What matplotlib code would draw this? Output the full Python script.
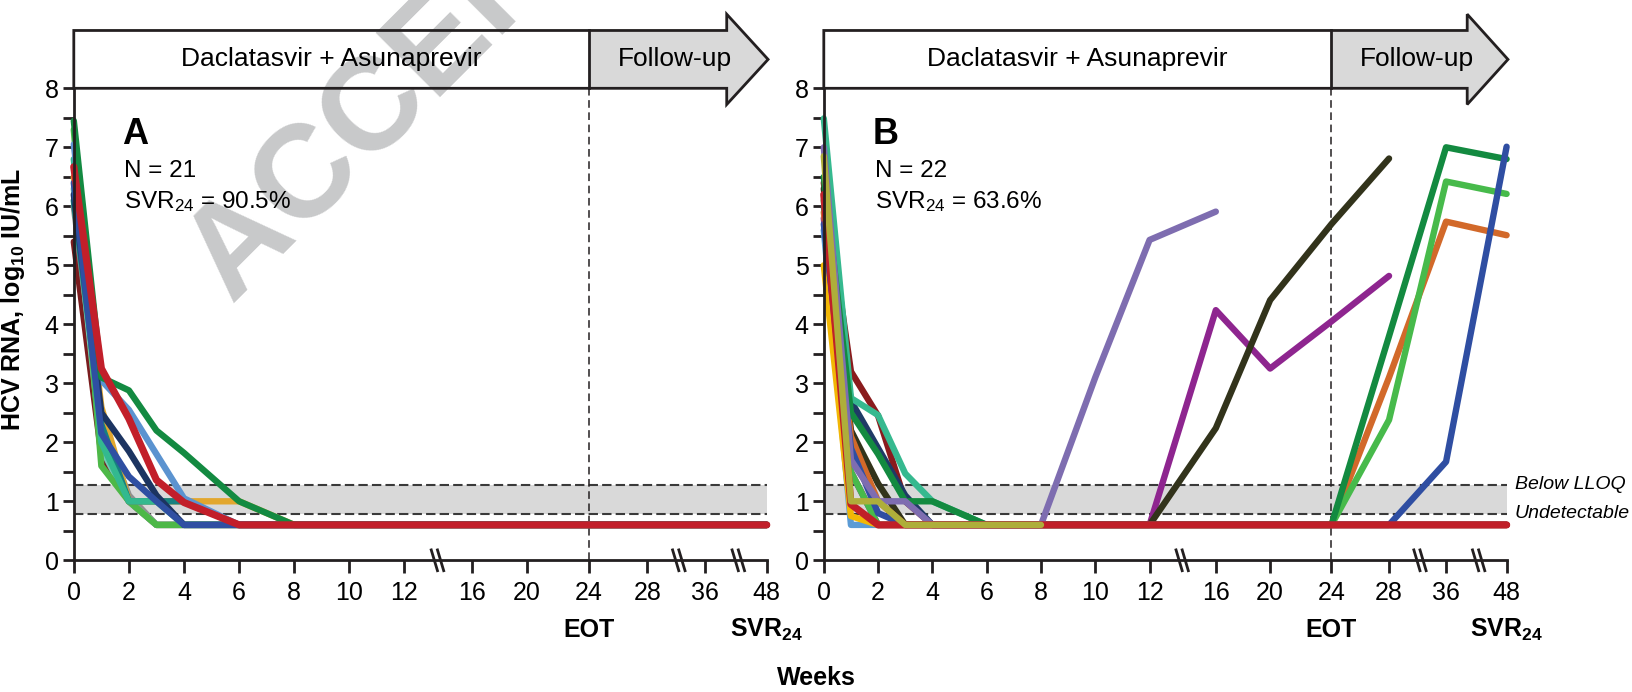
import numpy as np
import matplotlib
matplotlib.use("Agg")
import matplotlib.pyplot as plt
from matplotlib.patches import Polygon
from matplotlib.ticker import NullLocator
import matplotlib.transforms as mtransforms

plt.rcParams['font.family'] = ['Liberation Sans', 'DejaVu Sans']
plt.rcParams['mathtext.fontset'] = 'custom'
plt.rcParams['mathtext.rm'] = 'Liberation Sans'
plt.rcParams['mathtext.it'] = 'Liberation Sans:italic'
plt.rcParams['mathtext.bf'] = 'Liberation Sans:bold'

# weeks at which HCV RNA was measured
weeks = [0, 1, 2, 3, 4, 6, 8, 10, 12, 16, 20, 24, 28, 36, 48]

# broken x axis: tick weeks and where they sit (in 2-week units)
tick_weeks = [0, 2, 4, 6, 8, 10, 12, 16, 20, 24, 28, 36, 48]
tick_pos = [0, 1, 2, 3, 4, 5, 6, 7.22, 8.22, 9.35, 10.41, 11.46, 12.575]
break_pos = [6.6, 10.98, 12.06]

U = 0.6  # undetectable
# panel A: Daclatasvir + Asunaprevir, N = 21 (drawn in this order)
a_darkred = [5.4, 1.8, 1.0, U, U, U, U, U, U, U, U, U, U, U, U]
a_gray = [6.0, 2.3, 1.1, U, U, U, U, U, U, U, U, U, U, U, U]
a_mint = [6.3, 1.9, 1.0, U, U, U, U, U, U, U, U, U, U, U, U]
a_lgreen = [7.3, 1.6, 1.0, U, U, U, U, U, U, U, U, U, U, U, U]
a_gold = [6.5, 2.6, 1.0, 1.0, 1.0, 1.0, U, U, U, U, U, U, U, U, U]
a_teal = [6.1, 2.3, 1.0, 1.0, 1.0, U, U, U, U, U, U, U, U, U, U]
a_sea = [6.8, 2.0, 1.0, 1.0, U, U, U, U, U, U, U, U, U, U, U]
a_lblue = [7.05, 3.05, 2.55, 1.8, 1.05, U, U, U, U, U, U, U, U, U, U]
a_navy = [6.2, 2.5, 1.85, 1.1, U, U, U, U, U, U, U, U, U, U, U]
a_blue = [6.4, 2.15, 1.42, 1.0, U, U, U, U, U, U, U, U, U, U, U]
a_green = [7.45, 3.1, 2.88, 2.2, 1.82, 1.0, U, U, U, U, U, U, U, U, U]
a_red = [6.67, 3.25, 2.4, 1.36, 0.98, U, U, U, U, U, U, U, U, U, U]

N = None
# panel B (drawn in this order)
b_lblue = [5.6, U, U, U, U, U, U, U, U, U, U, U, U, U, U]
b_gold = [5.0, 0.75, U, U, U, U, U, U, U, U, U, U, U, U, U]
b_darkred = [6.4, 3.2, 2.45, 1.0, U, U, U, U, U, U, U, U, U, U, U]
b_navy = [6.0, 2.7, 1.9, 1.1, U, U, U, U, U, U, U, U, U, U, U]
b_teal = [7.49, 2.75, 2.46, 1.47, 1.0, U, U, N, N, N, N, N, N, N, N]
b_purple = [5.8, 1.5, U, U, U, U, U, U, U, 4.24, 3.25, 4.05, 4.82, N, N]
b_black = [6.3, 2.2, 1.3, U, U, U, U, U, U, 2.24, 4.41, 5.7, 6.81, N, N]
b_orange = [5.9, 2.1, 1.0, U, U, U, U, U, U, U, U, U, 3.1, 5.74, 5.51]
b_lgreen = [6.1, 1.5, U, U, U, U, U, U, U, U, U, U, 2.38, 6.42, 6.21]
b_dgreen = [6.5, 2.5, 1.8, 1.0, 1.0, U, U, U, U, U, U, U, 3.8, 7.0, 6.8]
b_blue = [5.7, 1.9, 0.8, U, U, U, U, U, U, U, U, U, U, 1.67, 7.01]
b_lavender = [7.0, 1.7, 1.0, 1.0, U, U, U, 3.1, 5.43, 5.91, N, N, N, N, N]
b_red = [6.2, 0.95, U, U, U, U, U, U, U, U, U, U, U, U, U]
b_olive = [6.85, 1.0, 1.0, U, U, U, U, N, N, N, N, N, N, N, N]

series_a = [(a_darkred, '#7a1c1e'), (a_gray, '#8f8f8f'), (a_mint, '#72c9b4'),
            (a_lgreen, '#4db848'), (a_gold, '#e2a72e'), (a_teal, '#17817f'),
            (a_sea, '#33b98f'), (a_lblue, '#5b93d0'), (a_navy, '#1c3461'),
            (a_blue, '#2f4fa2'), (a_green, '#138a41'), (a_red, '#c21f2a')]
series_b = [(b_lblue, '#5b9bd5'), (b_gold, '#f2b705'), (b_darkred, '#8a1b1d'),
            (b_navy, '#1f3a66'), (b_teal, '#36b98f'), (b_purple, '#8e258f'),
            (b_black, '#32331b'), (b_orange, '#d2692a'), (b_lgreen, '#47ba4b'),
            (b_dgreen, '#138a40'), (b_blue, '#2f4ea2'), (b_lavender, '#7e6db0'),
            (b_red, '#c01f28'), (b_olive, '#aeae3a')]

lloq = 1.28
undetect = 0.79


def fwd(w):
    return np.interp(w, tick_weeks, tick_pos)


def inv(p):
    return np.interp(p, tick_pos, tick_weeks)


W, H = 1632, 692
fig = plt.figure(figsize=(W / 100, H / 100), dpi=100)
axA = fig.add_axes([73.8 / W, 1 - 560.3 / H, 692.9 / W, 472 / H])
axB = fig.add_axes([823.8 / W, 1 - 560.3 / H, 682.8 / W, 472 / H])


def setup(ax, series):
    ax.set_xscale('function', functions=(fwd, inv))
    ax.set_xlim(0, 48)
    ax.set_ylim(0, 8)
    for s in ['top', 'right']:
        ax.spines[s].set_visible(False)
    for s in ['left', 'bottom']:
        ax.spines[s].set_linewidth(2.0)
        ax.spines[s].set_color('#231f20')
    ax.set_xticks(tick_weeks)
    ax.set_xticklabels([str(t) for t in tick_weeks])
    ax.xaxis.set_minor_locator(NullLocator())
    ax.set_yticks(range(9))
    ax.set_yticks(np.arange(0, 8.01, 0.5), minor=True)
    ax.tick_params(axis='x', length=9, width=2.0, labelsize=18, pad=6, color='#231f20')
    ax.tick_params(axis='y', which='both', length=8, width=2.0, labelsize=18, pad=3, color='#231f20')
    ax.tick_params(axis='y', which='minor', labelleft=False)

    # below LLOQ band
    ax.axhspan(undetect, lloq, color='#d9d9d9', lw=0, zorder=0.5)
    for yv in [lloq, undetect]:
        ax.axhline(yv, color='#3a3a3a', lw=1.5, ls=(0, (4.5, 2)), zorder=0.6)
    ax.axvline(24, color='#231f20', lw=1.1, ls=(0, (5, 3)), zorder=0.7)

    for vals, col in series:
        ax.plot(weeks, np.array(vals, dtype=float), color=col,
                lw=5.2 if col in ('#c21f2a', '#c01f28') else 4.6,
                solid_capstyle='round', solid_joinstyle='round', clip_on=False)

    # axis break marks
    span = fwd(48)
    for bp in break_pos:
        xf = bp / span
        for dx in (-0.0045, 0.0045):
            ax.plot([xf + dx - 0.0045, xf + dx + 0.0045], [0.022, -0.022],
                    transform=ax.transAxes, color='#231f20', lw=2.0,
                    clip_on=False, zorder=5)

    # treatment / follow-up arrow
    x24 = fwd(24) / span
    xs, xt = 0.9423, 1.002
    yb, yt, hb, ht, ym = 1.0, 1.1225, 0.9657, 1.157, 1.0612
    white = Polygon([(0, yb), (x24, yb), (x24, yt), (0, yt)], closed=True,
                    transform=ax.transAxes, facecolor='white', edgecolor='none',
                    clip_on=False, zorder=2)
    gray = Polygon([(x24, yb), (xs, yb), (xs, hb), (xt, ym), (xs, ht), (xs, yt), (x24, yt)],
                   closed=True, transform=ax.transAxes, facecolor='#d9d9d9',
                   edgecolor='none', clip_on=False, zorder=2)
    outline = Polygon([(0, yb), (xs, yb), (xs, hb), (xt, ym), (xs, ht), (xs, yt), (0, yt)],
                      closed=True, transform=ax.transAxes, facecolor='none',
                      edgecolor='#231f20', lw=2.0, joinstyle='miter',
                      clip_on=False, zorder=4)
    for p in (white, gray, outline):
        ax.add_patch(p)
    ax.plot([x24, x24], [yb, yt], transform=ax.transAxes, color='#231f20',
            lw=2.0, clip_on=False, zorder=4)
    ax.text(x24 / 2, ym, 'Daclatasvir + Asunaprevir', transform=ax.transAxes,
            ha='center', va='center', fontsize=19, zorder=6)
    ax.text(0.868, ym, 'Follow-up', transform=ax.transAxes,
            ha='center', va='center', fontsize=19, zorder=6)

    trans = mtransforms.blended_transform_factory(ax.transData, ax.transAxes)
    ax.text(24, -0.148, 'EOT', transform=trans, ha='center', va='center',
            fontsize=18, fontweight='bold')
    ax.text(48, -0.148, r'SVR$_\mathbf{24}$', transform=trans, ha='center',
            va='center', fontsize=18, fontweight='bold')


setup(axA, series_a)
setup(axB, series_b)

# watermark (sits above the arrow fill, below its outline and text)
axA.text(232 / W, 1 - 305 / H, 'ACCEPTED MANUSCRIPT', transform=fig.transFigure,
         rotation=45, rotation_mode='anchor', ha='left', va='baseline',
         fontsize=95, fontweight='bold', color='#c8c9ca', clip_on=False, zorder=3)

# panel annotations
for xl, lab, n, svr in [(122, 'A', 'N = 21', '90.5%'), (873, 'B', 'N = 22', '63.6%')]:
    fig.text(xl / W, 1 - 144 / H, lab, fontsize=26, fontweight='bold', va='baseline')
    fig.text((xl + 2) / W, 1 - 176.7 / H, n, fontsize=17.5, va='baseline')
    fig.text((xl + 2) / W, 1 - 208.3 / H, 'SVR$_{24}$ = ' + svr, fontsize=17.5, va='baseline')

transB = mtransforms.blended_transform_factory(axB.transAxes, axB.transData)
axB.text(1.0123, lloq, 'Below LLOQ', transform=transB, fontsize=14,
         style='italic', va='center', ha='left')
axB.text(1.0123, undetect, 'Undetectable', transform=transB, fontsize=14,
         style='italic', va='center', ha='left')

fig.text(13 / W, 1 - 299 / H, r'HCV RNA, log$_\mathbf{10}$ IU/mL', rotation=90,
         fontsize=18, fontweight='bold', ha='center', va='center')
fig.text(816 / W, 1 - 677.6 / H, 'Weeks', fontsize=18, fontweight='bold',
         ha='center', va='center')

fig.savefig('out.png', dpi=100)
